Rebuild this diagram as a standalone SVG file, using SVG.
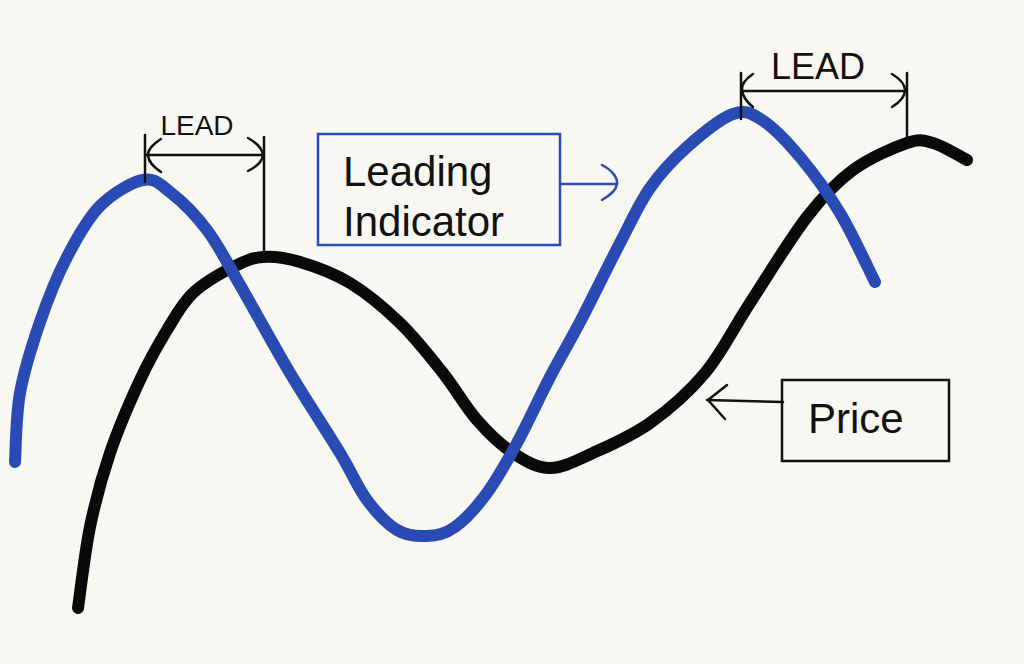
<svg xmlns="http://www.w3.org/2000/svg" width="1024" height="664" viewBox="0 0 1024 664">
<style>
.curve{fill:none;stroke-linecap:round;stroke-linejoin:round;stroke-width:12}
.thin{fill:none;stroke:#111;stroke-width:2.5;stroke-linecap:round;stroke-linejoin:round}
.thinb{fill:none;stroke:#2c4db2;stroke-width:2.5;stroke-linecap:round;stroke-linejoin:round}
.lbl{font-family:"Liberation Sans",Arial,Helvetica,sans-serif;fill:#111}
</style>
<rect x="0" y="0" width="1024" height="664" fill="#f8f7f2"/>
<g id="curves">
<path id="price-curve" class="curve" stroke="#0a0a0a" d="M78,608 C80,594.5 84.7,552.8 90,527 S101.7,477.5 110,453 S130.5,400.5 140,380 S158.2,344.5 167,330 S182,303.5 193,293 S221.3,273 233,267 S251.8,257.8 263,257 S285.5,257.7 300,262 S333.3,272.8 350,283 S384.5,308 400,323 S430.2,356.8 443,373 S465.3,406.7 477,420 S500.8,445 513,453 S536.7,468 550,468 S576.3,460.5 593,453 S631.3,436.3 650,423 S688.3,393 705,373 S733,329 750,303 S789.8,239.2 807,217 S836.3,182.3 853,170 S893.7,147.5 907,143 S923,140.2 933,143 S961.3,157.2 967,160"/>
<path id="indicator-curve" class="curve" stroke="#2a4bb3" d="M15,462 C15.8,450.5 15.8,416.3 20,393 S32.2,344.7 40,322 S57,276.3 67,257 S87.3,218.8 100,206 S131.3,182.3 143,180 S159.3,183.7 170,192 S195.3,214.5 207,230 S226.2,261.2 240,285 S273.3,345 290,373 S327.2,431.8 340,453 S357.5,487.2 367,500 S387,524 397,530 S417.3,536.5 427,536 S445,534.2 455,527 S476.7,507 487,493 S506.5,462.3 517,443 S539.5,397.2 550,377 S568.3,344.3 580,322 S608.3,265.3 620,243 S638.8,204 650,188 S673.2,159.3 687,147 S720.5,118.5 733,114 S750.8,112.8 762,120 S787,141.5 800,157 S827.5,192.2 840,213 S869.2,270.5 875,282"/>
</g>
<g id="lead-left">
<path class="thin" d="M145,135 L145,182 M264,137 L264,252 M145,155 L264,155"/>
<path class="thin" d="M161,139 Q147,148 148,156 Q149,164 161,172"/>
<path class="thin" d="M248,138 Q262,146 263,155 Q262,164 248,171"/>
<text class="lbl" x="197" y="135" font-size="28" text-anchor="middle">LEAD</text>
</g>
<g id="lead-right">
<path class="thin" d="M741,73 L741,119 M907,73 L907,140 M741,91 L907,91"/>
<path class="thin" d="M753,74 Q741,82 742,90 Q743,99 753,107"/>
<path class="thin" d="M892,74 Q905,82 905,90 Q905,99 892,107"/>
<text class="lbl" x="818" y="79" font-size="36" text-anchor="middle">LEAD</text>
</g>
<g id="leading-indicator">
<rect x="318" y="134" width="242" height="111" fill="none" stroke="#2c4db2" stroke-width="2.5"/>
<text class="lbl" x="343" y="186" font-size="42">Leading</text>
<text class="lbl" x="343" y="236" font-size="42">Indicator</text>
</g>
<g id="price">
<rect x="782" y="380" width="167" height="81" fill="none" stroke="#111" stroke-width="2.5"/>
<text class="lbl" x="808" y="433" font-size="42">Price</text>
</g>
<g id="connectors">
<path class="thinb" d="M560,184 L617,184"/>
<path class="thinb" d="M602,165 C612,170 618,178 617,184 C616,191 609,196 602,200"/>
<path class="thin" d="M783,402 L707,400"/>
<path class="thin" d="M727,385 L708,400 L725,419"/>
</g>
</svg>
